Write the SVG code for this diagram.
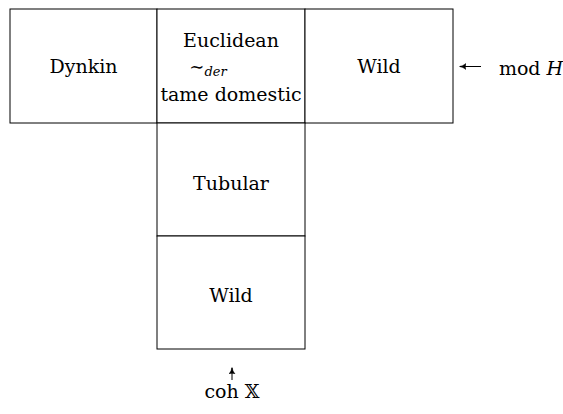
<svg xmlns="http://www.w3.org/2000/svg" width="563" height="414" viewBox="0 0 563 414">
<style>
.b{fill:#fff;stroke:#000;stroke-width:1}
text{font-family:"DejaVu Serif",serif;font-size:19px;fill:#000;text-anchor:middle}
.c{stroke:#000;stroke-width:1;fill:none}
</style>
<defs>
<marker id="ah" markerWidth="8" markerHeight="8" refX="6" refY="3.5" orient="auto" markerUnits="userSpaceOnUse">
<path d="M0,0.5 Q3,3 6.5,3.5 Q3,4 0,6.5 Q1.5,3.5 0,0.5 z" fill="#000" stroke="#000" stroke-width="0.5"/>
</marker>
</defs>
<g id="dynkin"><rect class="b" x="10" y="9" width="147" height="114"/><text x="83.5" y="73">Dynkin</text></g>
<g id="euclidean"><rect class="b" x="157" y="9" width="148" height="114"/>
<text x="231" y="47">Euclidean</text>
<text x="208" y="73"><tspan font-size="18">∼</tspan><tspan font-style="italic" font-size="13" dy="3">der</tspan></text>
<text x="231" y="101">tame domestic</text></g>
<g id="wild1"><rect class="b" x="305" y="9" width="148" height="114"/><text x="379" y="73">Wild</text></g>
<g id="tubular"><rect class="b" x="157" y="123" width="148" height="113"/><text x="231" y="190">Tubular</text></g>
<g id="wild2"><rect class="b" x="157" y="236" width="148" height="113"/><text x="231" y="302">Wild</text></g>
<g id="modH"><text x="531" y="75">mod <tspan font-style="italic">H</tspan></text></g>
<g id="coh"><text x="232" y="398">coh 𝕏</text></g>
<g id="connectors">
<line class="c" x1="481" y1="66.5" x2="460" y2="66.5" marker-end="url(#ah)"/>
<line class="c" x1="232" y1="380" x2="232" y2="368" marker-end="url(#ah)"/>
</g>
</svg>
